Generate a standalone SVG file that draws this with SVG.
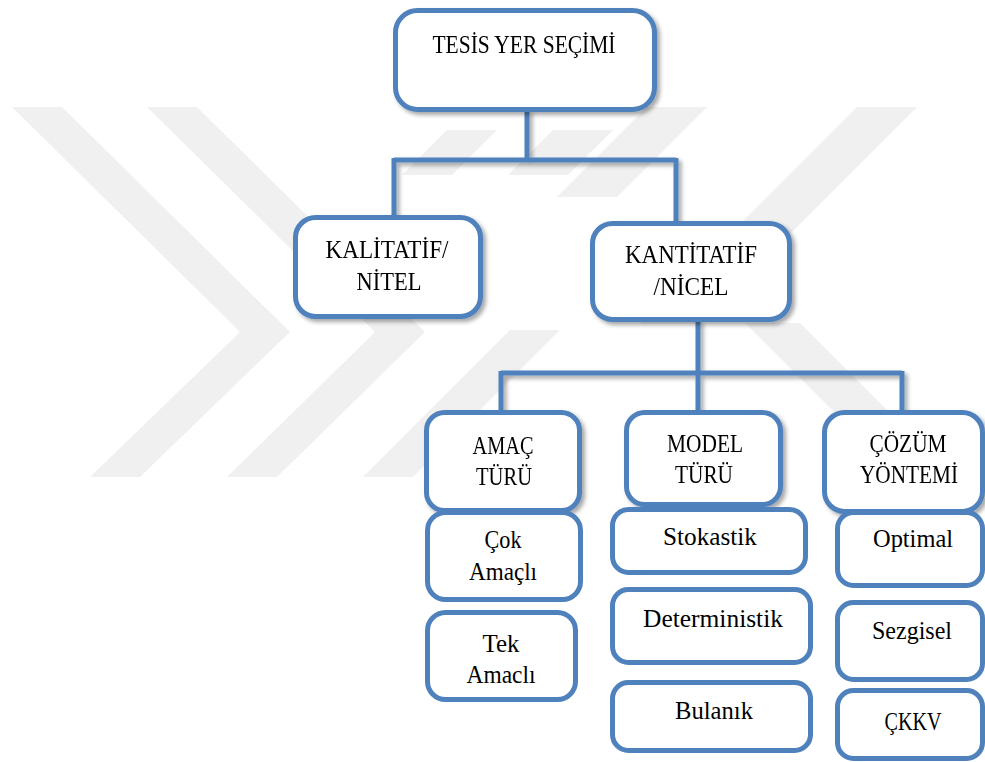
<svg xmlns="http://www.w3.org/2000/svg" width="985" height="762" viewBox="0 0 985 762">
<defs>
<filter id="sh" x="-10%" y="-10%" width="130%" height="140%">
<feDropShadow dx="3" dy="3" stdDeviation="2" flood-color="#000" flood-opacity="0.35"/>
</filter>
<style>
.wm{fill:#f0f0f0;stroke:none}
.box{fill:#fff;stroke:#4f81bd;stroke-width:5}
.ln{fill:none;stroke:#4f81bd;stroke-width:5;stroke-linecap:butt}
text{font-family:"Liberation Serif","Times New Roman",serif;font-size:25px;fill:#000;text-anchor:middle}
</style>
</defs>
<rect width="985" height="762" fill="#fff"/>
<g id="watermark">
<polygon class="wm" points="12,107 62,107 290,332 140,477 90,477 240,332"/>
<polygon class="wm" points="147,107 197,107 425,332 277,477 227,477 375,332"/>
<polygon class="wm" points="363,477 413,477 560,330 510,330"/>
<polygon class="wm" points="402,175 452,175 497,130 447,130"/>
<polygon class="wm" points="508,175 568,175 613,130 553,130"/>
<polygon class="wm" points="857,107 917,107 700,324 640,324"/>
<polygon class="wm" points="647,107 707,107 617,197 557,197"/>
<polygon class="wm" points="745,323 800,323 955,478 900,478"/>
</g>
<g id="connectors" filter="url(#sh)">
<path class="ln" d="M527,110 V160"/>
<path class="ln" d="M394,160 H676"/>
<path class="ln" d="M394,158 V218"/>
<path class="ln" d="M676,158 V224"/>
<path class="ln" d="M698,320 V373"/>
<path class="ln" d="M501,373 H902"/>
<path class="ln" d="M501,371 V413"/>
<path class="ln" d="M698,371 V413"/>
<path class="ln" d="M902,371 V413"/>
</g>
<g id="tesis" filter="url(#sh)">
<rect class="box" x="395.5" y="10.5" width="259" height="99" rx="22"/>
<text x="524" y="53" textLength="183" lengthAdjust="spacingAndGlyphs">TESİS YER SEÇİMİ</text>
</g>
<g id="kalitatif" filter="url(#sh)">
<rect class="box" x="295.5" y="217.5" width="185" height="99" rx="20"/>
<text x="387" y="258" textLength="123" lengthAdjust="spacingAndGlyphs">KALİTATİF/</text>
<text x="389" y="290" textLength="65" lengthAdjust="spacingAndGlyphs">NİTEL</text>
</g>
<g id="kantitatif" filter="url(#sh)">
<rect class="box" x="592.5" y="223.5" width="197" height="96" rx="20"/>
<text x="691" y="263" textLength="132" lengthAdjust="spacingAndGlyphs">KANTİTATİF</text>
<text x="691" y="295" textLength="75" lengthAdjust="spacingAndGlyphs">/NİCEL</text>
</g>
<g id="amac" filter="url(#sh)">
<rect class="box" x="426.5" y="412.5" width="153" height="98" rx="18"/>
<text x="503" y="454" textLength="61" lengthAdjust="spacingAndGlyphs">AMAÇ</text>
<text x="504" y="485" textLength="56" lengthAdjust="spacingAndGlyphs">TÜRÜ</text>
</g>
<g id="model" filter="url(#sh)">
<rect class="box" x="626.5" y="412.5" width="154" height="92" rx="18"/>
<text x="705" y="452" textLength="76" lengthAdjust="spacingAndGlyphs">MODEL</text>
<text x="704" y="483" textLength="58" lengthAdjust="spacingAndGlyphs">TÜRÜ</text>
</g>
<g id="cozum" filter="url(#sh)">
<rect class="box" x="824.5" y="412.5" width="158" height="99" rx="20"/>
<text x="908" y="452" textLength="77" lengthAdjust="spacingAndGlyphs">ÇÖZÜM</text>
<text x="909" y="483" textLength="98" lengthAdjust="spacingAndGlyphs">YÖNTEMİ</text>
</g>
<g id="cok">
<rect class="box" x="427.5" y="512.5" width="153" height="87" rx="18"/>
<text x="503" y="548" textLength="37" lengthAdjust="spacingAndGlyphs">Çok</text>
<text x="503" y="580" textLength="68" lengthAdjust="spacingAndGlyphs">Amaçlı</text>
</g>
<g id="tek">
<rect class="box" x="427.5" y="612.5" width="148" height="87" rx="18"/>
<text x="501" y="652" textLength="37" lengthAdjust="spacingAndGlyphs">Tek</text>
<text x="501" y="683" textLength="69" lengthAdjust="spacingAndGlyphs">Amaclı</text>
</g>
<g id="stokastik">
<rect class="box" x="612.5" y="509.5" width="193" height="63" rx="16"/>
<text x="710" y="545" textLength="94" lengthAdjust="spacingAndGlyphs">Stokastik</text>
</g>
<g id="deterministik">
<rect class="box" x="612.5" y="589.5" width="198" height="73" rx="16"/>
<text x="713" y="627" textLength="140" lengthAdjust="spacingAndGlyphs">Deterministik</text>
</g>
<g id="bulanik">
<rect class="box" x="612.5" y="682.5" width="198" height="68" rx="16"/>
<text x="714" y="719" textLength="78" lengthAdjust="spacingAndGlyphs">Bulanık</text>
</g>
<g id="optimal">
<rect class="box" x="837.5" y="512.5" width="145" height="73" rx="16"/>
<text x="913" y="547" textLength="80" lengthAdjust="spacingAndGlyphs">Optimal</text>
</g>
<g id="sezgisel">
<rect class="box" x="837.5" y="602.5" width="145" height="77" rx="16"/>
<text x="912" y="639" textLength="80" lengthAdjust="spacingAndGlyphs">Sezgisel</text>
</g>
<g id="ckkv">
<rect class="box" x="837.5" y="690.5" width="145" height="68" rx="16"/>
<text x="913" y="730" textLength="57" lengthAdjust="spacingAndGlyphs">ÇKKV</text>
</g>
</svg>
